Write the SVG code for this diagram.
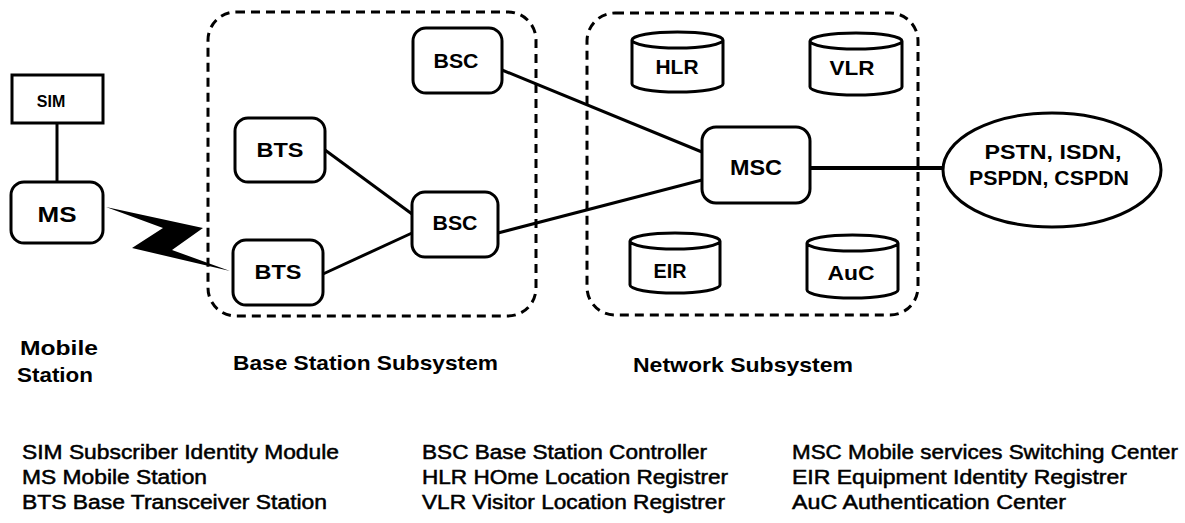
<svg xmlns="http://www.w3.org/2000/svg" width="1185" height="523" viewBox="0 0 1185 523">
<style>
.bg{fill:#fff}
.node{fill:#fff;stroke:#000;stroke-width:3}
.grp{fill:none;stroke:#000;stroke-width:3;stroke-dasharray:9 6}
.lbl{font-family:"Liberation Sans",Arial,sans-serif;font-weight:bold;fill:#000;text-anchor:middle}
.cap{font-family:"Liberation Sans",Arial,sans-serif;font-weight:bold;fill:#000;font-size:21px}
.leg{font-family:"Liberation Sans",Arial,sans-serif;fill:#000;stroke:#000;stroke-width:0.5;font-size:20px}
.conn{stroke:#000;stroke-width:3;fill:none}
</style>
<rect class="bg" x="0" y="0" width="1185" height="523"/>

<g id="bss-group"><rect class="grp" x="208" y="12" width="328" height="304" rx="28"/></g>
<g id="nss-group"><rect class="grp" x="587" y="13" width="331" height="302" rx="28"/></g>

<g id="connectors">
  <line class="conn" x1="57" y1="123" x2="57" y2="182"/>
  <polygon fill="#000" points="106,207 203,228 172,250 230,271 132,248 163,228"/>
  <line class="conn" x1="325" y1="150" x2="412" y2="214"/>
  <line class="conn" x1="323" y1="274" x2="412" y2="233"/>
  <line class="conn" x1="502" y1="70" x2="702" y2="152"/>
  <line class="conn" x1="498" y1="233" x2="702" y2="180"/>
  <line stroke="#000" stroke-width="4" x1="810" y1="168" x2="944" y2="168"/>
</g>

<g id="SIM"><rect class="node" x="12" y="75" width="91" height="48"/><text class="lbl" x="51" y="107" font-size="16">SIM</text></g>
<g id="MS"><rect class="node" x="11" y="182" width="92" height="61" rx="13"/><text class="lbl" x="57" y="222" font-size="22" textLength="39" lengthAdjust="spacingAndGlyphs">MS</text></g>

<g id="BTS1"><rect class="node" x="235" y="118" width="90" height="64" rx="13"/><text class="lbl" x="280" y="157" font-size="21" textLength="47" lengthAdjust="spacingAndGlyphs">BTS</text></g>
<g id="BTS2"><rect class="node" x="233" y="240" width="90" height="65" rx="13"/><text class="lbl" x="278" y="279" font-size="21" textLength="47" lengthAdjust="spacingAndGlyphs">BTS</text></g>
<g id="BSC1"><rect class="node" x="413" y="28" width="89" height="65" rx="13"/><text class="lbl" x="456" y="68" font-size="21" textLength="45" lengthAdjust="spacingAndGlyphs">BSC</text></g>
<g id="BSC2"><rect class="node" x="412" y="192" width="86" height="65" rx="13"/><text class="lbl" x="455" y="230" font-size="21" textLength="45" lengthAdjust="spacingAndGlyphs">BSC</text></g>

<g id="MSC"><rect class="node" x="702" y="127" width="108" height="76" rx="14"/><text class="lbl" x="756" y="175" font-size="22" textLength="52" lengthAdjust="spacingAndGlyphs">MSC</text></g>

<g id="HLR"><path class="node" d="M632,40 A45.5,8 0 0 1 723,40 V84 A45.5,8 0 0 1 632,84 Z M632,40 A45.5,8 0 0 0 723,40"/><text class="lbl" x="677" y="74" font-size="20" textLength="43" lengthAdjust="spacingAndGlyphs">HLR</text></g>
<g id="VLR"><path class="node" d="M810,41 A46,8 0 0 1 902,41 V87 A46,8 0 0 1 810,87 Z M810,41 A46,8 0 0 0 902,41"/><text class="lbl" x="852" y="75" font-size="20" textLength="45" lengthAdjust="spacingAndGlyphs">VLR</text></g>
<g id="EIR"><path class="node" d="M630,241 A45,8 0 0 1 720,241 V285 A45,8 0 0 1 630,285 Z M630,241 A45,8 0 0 0 720,241"/><text class="lbl" x="670" y="278" font-size="20" textLength="33" lengthAdjust="spacingAndGlyphs">EIR</text></g>
<g id="AuC"><path class="node" d="M807,243 A45.5,8 0 0 1 898,243 V290 A45.5,8 0 0 1 807,290 Z M807,243 A45.5,8 0 0 0 898,243"/><text class="lbl" x="851" y="280" font-size="20" textLength="47" lengthAdjust="spacingAndGlyphs">AuC</text></g>

<g id="PSTN"><ellipse class="node" cx="1052" cy="170" rx="109" ry="57"/><text class="lbl" x="1053" y="159" font-size="20" textLength="137" lengthAdjust="spacingAndGlyphs">PSTN, ISDN,</text><text class="lbl" x="1049" y="185" font-size="20" textLength="160" lengthAdjust="spacingAndGlyphs">PSPDN, CSPDN</text></g>

<g id="labels">
  <text class="cap" x="20" y="355" font-size="19" textLength="78" lengthAdjust="spacingAndGlyphs">Mobile</text>
  <text class="cap" x="17" y="382" font-size="19" textLength="76" lengthAdjust="spacingAndGlyphs">Station</text>
  <text class="cap" x="233" y="370" textLength="265" lengthAdjust="spacingAndGlyphs">Base Station Subsystem</text>
  <text class="cap" x="633" y="372" textLength="220" lengthAdjust="spacingAndGlyphs">Network Subsystem</text>
</g>

<g id="legend">
  <text class="leg" x="22" y="459" textLength="317" lengthAdjust="spacingAndGlyphs">SIM Subscriber Identity Module</text>
  <text class="leg" x="22" y="484" textLength="185" lengthAdjust="spacingAndGlyphs">MS Mobile Station</text>
  <text class="leg" x="22" y="509" textLength="305" lengthAdjust="spacingAndGlyphs">BTS Base Transceiver Station</text>
  <text class="leg" x="422" y="459" textLength="285" lengthAdjust="spacingAndGlyphs">BSC Base Station Controller</text>
  <text class="leg" x="422" y="484" textLength="306" lengthAdjust="spacingAndGlyphs">HLR HOme Location Registrer</text>
  <text class="leg" x="422" y="509" textLength="303" lengthAdjust="spacingAndGlyphs">VLR Visitor Location Registrer</text>
  <text class="leg" x="792" y="459" textLength="386" lengthAdjust="spacingAndGlyphs">MSC Mobile services Switching Center</text>
  <text class="leg" x="792" y="484" textLength="335" lengthAdjust="spacingAndGlyphs">EIR Equipment Identity Registrer</text>
  <text class="leg" x="792" y="509" textLength="274" lengthAdjust="spacingAndGlyphs">AuC Authentication Center</text>
</g>
</svg>
